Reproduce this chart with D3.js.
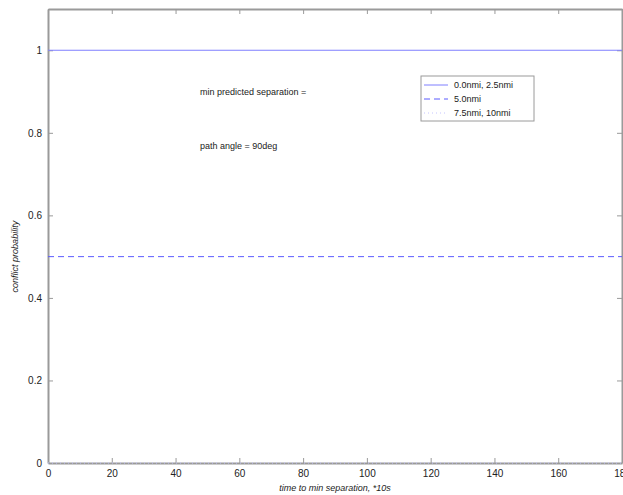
<!DOCTYPE html>
<html>
<head>
<meta charset="utf-8">
<script src="https://cdn.jsdelivr.net/npm/d3@7"></script>
<style>
  body { margin: 0; background: #fff; }
  svg text { font-family: 'Liberation Sans', Arial, sans-serif; fill: #222; }
</style>
</head>
<body>
<div id="chart"></div>
<script>
const times = [0, 20, 40, 60, 80, 100, 120, 140, 160, 180];
const seriesNames = ['0.0nmi, 2.5nmi', '5.0nmi', '7.5nmi, 10nmi'];
const probNear = [1, 1, 1, 1, 1, 1, 1, 1, 1, 1];
const probMid = [0.5, 0.5, 0.5, 0.5, 0.5, 0.5, 0.5, 0.5, 0.5, 0.5];
const probFar = [0, 0, 0, 0, 0, 0, 0, 0, 0, 0];
const xTicks = [0, 20, 40, 60, 80, 100, 120, 140, 160, 180];
const yTicks = [0, 0.2, 0.4, 0.6, 0.8, 1];
const notes = ['min predicted separation =', 'path angle = 90deg'];

const size = { width: 623, height: 495 };
const margin = { top: 9, right: 1, bottom: 32, left: 48 };

const svg = d3.select('#chart').append('svg')
  .attr('width', size.width)
  .attr('height', size.height);

const x = d3.scaleLinear().domain([0, 180]).range([margin.left, size.width - margin.right]);
const y = d3.scaleLinear().domain([0, 1.1]).range([size.height - margin.bottom, margin.top]);

const axisColor = '#9a9a9a';

// inner ticks, matlab style
const axBottom = svg.append('g')
  .attr('transform', `translate(0, ${y(0)})`)
  .call(d3.axisBottom(x).tickValues(xTicks).tickSizeInner(-5).tickSizeOuter(0).tickPadding(7).tickFormat(d3.format('d')));
const axTop = svg.append('g')
  .attr('transform', `translate(0, ${y(1.1)})`)
  .call(d3.axisTop(x).tickValues(xTicks).tickSizeInner(-5).tickSizeOuter(0).tickFormat(''));
const axLeft = svg.append('g')
  .attr('transform', `translate(${x(0)}, 0)`)
  .call(d3.axisLeft(y).tickValues(yTicks).tickSizeInner(-5).tickSizeOuter(0).tickPadding(6).tickFormat((d) => d));
const axRight = svg.append('g')
  .attr('transform', `translate(${x(180)}, 0)`)
  .call(d3.axisRight(y).tickValues(yTicks).tickSizeInner(-5).tickSizeOuter(0).tickFormat(''));

[axBottom, axTop, axLeft, axRight].forEach((g) => {
  g.select('.domain').attr('stroke', axisColor).attr('stroke-width', 2);
  g.selectAll('.tick line').attr('stroke', axisColor);
  g.selectAll('.tick text').style('font-size', '10px').attr('fill', '#333');
});

const series = [
  { name: seriesNames[0], values: probNear, dash: null, color: '#7f7fff', width: 1.2 },
  { name: seriesNames[1], values: probMid, dash: '6,4', color: '#5b5bff', width: 1 },
  { name: seriesNames[2], values: probFar, dash: '1,3', color: '#c4c4ff', width: 1 },
];

const line = d3.line()
  .x((d, i) => x(times[i]))
  .y((d) => y(d));

svg.selectAll('path.series')
  .data(series)
  .join('path')
  .attr('class', 'series')
  .attr('d', (d) => line(d.values))
  .attr('fill', 'none')
  .attr('stroke', (d) => d.color)
  .attr('stroke-width', (d) => d.width)
  .attr('stroke-dasharray', (d) => d.dash);

// notes
svg.selectAll('text.note')
  .data(notes)
  .join('text')
  .attr('class', 'note')
  .attr('x', 200)
  .attr('y', (d, i) => 95 + i * 54)
  .style('font-size', '9px')
  .text((d) => d);

// legend
const legend = svg.append('g').attr('transform', 'translate(421, 76)');
legend.append('rect')
  .attr('width', 113)
  .attr('height', 45)
  .attr('fill', '#fff')
  .attr('stroke', '#9a9a9a');
const items = legend.selectAll('g.item').data(series).join('g')
  .attr('transform', (d, i) => `translate(0, ${9 + i * 14})`);
items.append('line')
  .attr('x1', 3).attr('x2', 27)
  .attr('stroke', (d) => d.color)
  .attr('stroke-dasharray', (d) => d.dash);
items.append('text')
  .attr('x', 33)
  .attr('dy', '0.35em')
  .style('font-size', '9px')
  .text((d) => d.name);

// axis labels
svg.append('text')
  .attr('x', (x(0) + x(180)) / 2)
  .attr('y', 491)
  .attr('text-anchor', 'middle')
  .style('font-size', '9px')
  .style('font-style', 'italic')
  .text('time to min separation, *10s');

svg.append('text')
  .attr('transform', `translate(18, ${y(0.5)}) rotate(-90)`)
  .attr('text-anchor', 'middle')
  .style('font-size', '9px')
  .style('font-style', 'italic')
  .text('conflict probability');
</script>
</body>
</html>
